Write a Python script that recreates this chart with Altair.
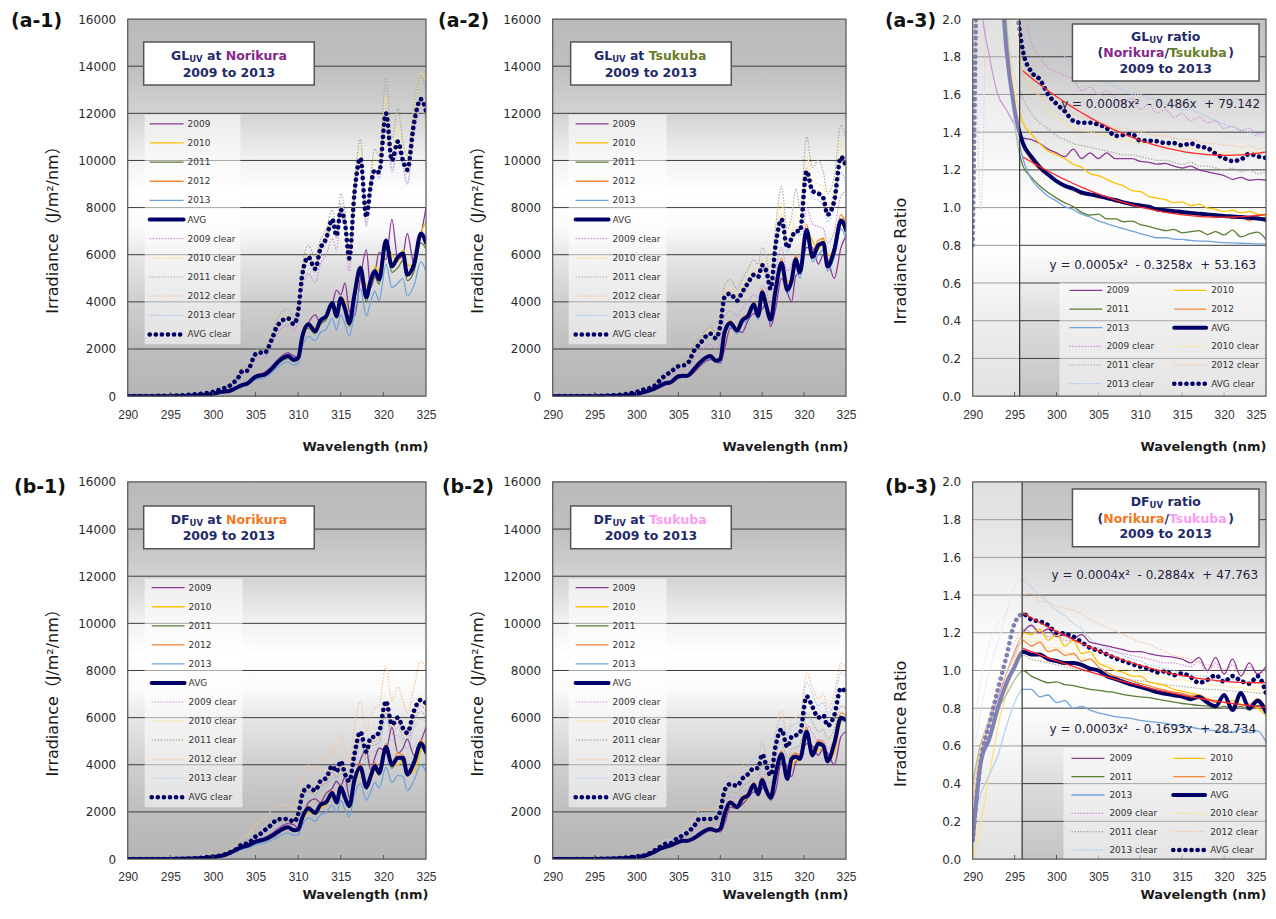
import altair as alt
import pandas as pd

FONT = "DejaVu Sans"
XFONT = "Liberation Sans Narrow, Liberation Sans, sans-serif"
NAVY = "#1f2a6b"
T_PURPLE = "#84288c"
T_OLIVE = "#6a7d28"
T_ORANGE = "#f07820"
T_PINK = "#fb9cf2"

SERIES = ["2009", "2010", "2011", "2012", "2013", "AVG",
          "2009 clear", "2010 clear", "2011 clear", "2012 clear", "2013 clear", "AVG clear"]
COLORS = ["#8b3a96", "#ffc000", "#5e7b34", "#f5883a", "#6fa3dc", "#000066",
          "#cf8fd6", "#ffe37a", "#a9ad98", "#f8c29a", "#a7c6ee", "#000066"]

# wavelength grid (nm) used for the irradiance spectra
WL_IRR = [290, 295, 298, 299, 300, 301, 302, 303, 303.5, 304, 305, 305.5, 306, 307, 307.5,
          308.8, 309.5, 310, 310.5, 311.2, 312, 312.6, 313.3, 314, 314.5, 315, 315.5, 316,
          316.6, 317.3, 318, 318.5, 319, 319.5, 320.3, 321, 321.7, 322.3, 322.8, 323.6, 324.4, 325]
# wavelength grid (nm) used for the ratios
WL_RATIO = list(range(290, 326))

# ---------------- (a-1) GL UV at Norikura ----------------
A1_2009 = [0, 0, 30, 60, 110, 200, 260, 430, 520, 580, 880, 950, 1000, 1300, 1500, 1850, 1700, 1650, 2400, 3100, 3450, 3100, 3500, 3900, 4500, 4300, 4800, 3600, 3400, 5000, 6200, 4600, 5200, 6100, 5800, 7500, 5800, 6000, 6900, 5600, 6800, 8000]
A1_2010 = [0, 0, 20, 45, 90, 160, 210, 380, 460, 520, 800, 860, 890, 1180, 1380, 1680, 1560, 1550, 2300, 3000, 2900, 3150, 3400, 3900, 3700, 4200, 4000, 3200, 4100, 5500, 4700, 4800, 5500, 5300, 6400, 6000, 5700, 6200, 5600, 5500, 6900, 7400]
A1_2011 = [0, 0, 20, 45, 95, 170, 220, 380, 450, 500, 780, 830, 860, 1150, 1330, 1600, 1470, 1560, 2450, 2900, 2650, 3050, 3250, 3800, 3300, 3950, 3550, 2950, 4050, 5200, 4000, 4650, 5050, 4750, 6300, 5250, 5450, 5750, 4900, 5300, 6500, 6250]
A1_2012 = [0, 0, 25, 50, 100, 180, 230, 400, 480, 530, 820, 870, 900, 1200, 1400, 1700, 1550, 1600, 2500, 3000, 2800, 3200, 3400, 3950, 3450, 4150, 3750, 3100, 4250, 5450, 4300, 4850, 5300, 5000, 6600, 5600, 5800, 6000, 5200, 5600, 6800, 6600]
A1_2013 = [0, 0, 20, 40, 85, 150, 200, 340, 410, 450, 700, 740, 770, 1030, 1200, 1450, 1320, 1380, 2100, 2550, 2350, 2700, 2850, 3300, 2800, 3450, 3050, 2550, 3500, 4550, 3400, 4000, 4450, 4050, 5600, 4600, 4800, 5000, 4250, 4700, 5700, 5300]
A1_AVG = [0, 0, 25, 50, 100, 180, 230, 400, 480, 530, 820, 870, 900, 1200, 1400, 1700, 1540, 1620, 2550, 3050, 2750, 3200, 3400, 3950, 3400, 4150, 3700, 3100, 4300, 5450, 4200, 4900, 5300, 4950, 6600, 5500, 5900, 6050, 5150, 5600, 6900, 6500]
A1_2009C = [0, 15, 70, 100, 150, 260, 390, 700, 950, 960, 1550, 1650, 1600, 2250, 2650, 3000, 2800, 3200, 4600, 5200, 4800, 5600, 6000, 6700, 6200, 7600, 7100, 5300, 8300, 10000, 7300, 8700, 9500, 9300, 11700, 9600, 10400, 9800, 9000, 11200, 12300, 11800]
A1_2010C = [0, 20, 80, 120, 180, 300, 460, 820, 1100, 1100, 1800, 1900, 1850, 2550, 3000, 3400, 3100, 3700, 5300, 6000, 5500, 6300, 6800, 7500, 6900, 8100, 7400, 6000, 8800, 10600, 7800, 9200, 10100, 9900, 12700, 10400, 11400, 10500, 10000, 12300, 13700, 13400]
A1_2011C = [0, 25, 90, 130, 200, 330, 500, 900, 1200, 1200, 1950, 2050, 2000, 2750, 3250, 3700, 3300, 3800, 5600, 6400, 5900, 6600, 7100, 7900, 7200, 8600, 7800, 6100, 9000, 10900, 8000, 9400, 10500, 10200, 13500, 10900, 12200, 10800, 10200, 12400, 13600, 12900]
A1_2012C = [0, 20, 80, 115, 175, 290, 440, 780, 1050, 1050, 1750, 1820, 1800, 2450, 2900, 3250, 3000, 3550, 5100, 5800, 5350, 6150, 6600, 7400, 6700, 7800, 7200, 5700, 8500, 10000, 7400, 8800, 9500, 9400, 11900, 9900, 10600, 9800, 9400, 11300, 12300, 11400]
A1_2013C = [0, 20, 75, 110, 170, 280, 430, 760, 1030, 1030, 1700, 1780, 1750, 2400, 2850, 3200, 2950, 3500, 5000, 5700, 5250, 6000, 6500, 7200, 6700, 8200, 7500, 5900, 8300, 9800, 7200, 8600, 9300, 9200, 11600, 9500, 10300, 9700, 9000, 11000, 12200, 11800]
A1_AVGC = [0, 20, 80, 120, 180, 300, 450, 800, 1080, 1080, 1780, 1850, 1820, 2500, 2950, 3300, 3050, 3600, 5200, 5900, 5400, 6250, 6700, 7500, 6800, 7900, 7300, 5850, 8600, 10100, 7600, 8900, 9600, 9500, 12000, 10000, 10800, 10000, 9600, 11600, 12600, 12100]

# ---------------- (a-2) GL UV at Tsukuba ----------------
A2_2009 = [0, 0, 15, 30, 70, 140, 250, 400, 480, 520, 750, 800, 800, 1050, 1250, 1550, 1450, 1400, 2000, 2900, 2800, 2700, 3200, 3500, 3400, 3700, 3900, 2950, 3700, 5000, 4400, 4000, 5100, 5300, 6300, 6300, 5600, 6000, 5800, 5000, 6300, 6800]
A2_2010 = [0, 0, 20, 40, 85, 170, 290, 470, 550, 580, 850, 880, 870, 1200, 1420, 1750, 1560, 1550, 2400, 3150, 2900, 3200, 3500, 3950, 3650, 4400, 4100, 3300, 4300, 5700, 4900, 4900, 5700, 5600, 7000, 6600, 6200, 6700, 6000, 6000, 7400, 7600]
A2_2011 = [0, 0, 20, 40, 90, 180, 300, 480, 560, 580, 860, 880, 870, 1210, 1410, 1720, 1510, 1600, 2750, 3150, 2800, 3250, 3450, 3950, 3450, 4450, 3850, 3300, 4550, 5700, 4550, 4950, 5850, 5300, 7100, 6000, 6450, 6550, 5550, 6250, 7500, 7100]
A2_2012 = [0, 0, 22, 45, 95, 190, 310, 500, 580, 600, 880, 900, 890, 1240, 1450, 1760, 1550, 1630, 2800, 3200, 2850, 3300, 3500, 4000, 3500, 4550, 3900, 3350, 4650, 5850, 4650, 5050, 6000, 5400, 7300, 6100, 6600, 6700, 5700, 6400, 7700, 7300]
A2_2013 = [0, 0, 18, 36, 85, 170, 285, 460, 530, 550, 810, 830, 820, 1150, 1330, 1620, 1430, 1500, 2600, 2950, 2650, 3050, 3250, 3700, 3250, 4200, 3600, 3100, 4300, 5400, 4300, 4700, 5500, 5000, 6750, 5700, 6000, 6200, 5300, 5900, 7100, 6700]
A2_AVG = [0, 0, 20, 40, 90, 180, 300, 480, 560, 580, 850, 870, 860, 1200, 1400, 1700, 1500, 1580, 2700, 3100, 2780, 3200, 3400, 3900, 3400, 4400, 3800, 3250, 4500, 5650, 4500, 4900, 5800, 5250, 7050, 5900, 6400, 6500, 5500, 6200, 7450, 7050]
A2_2009C = [0, 5, 50, 80, 150, 250, 340, 620, 750, 830, 1050, 1100, 1100, 1650, 1850, 2200, 2000, 2400, 3400, 3600, 3400, 3700, 4000, 4300, 4200, 4700, 4500, 3800, 5300, 6300, 5300, 5600, 5900, 5900, 8000, 7300, 7200, 7100, 6500, 7000, 8500, 8700]
A2_2010C = [0, 10, 65, 105, 190, 320, 420, 790, 950, 1050, 1330, 1370, 1420, 2100, 2300, 2800, 2550, 3150, 4400, 4600, 4250, 4600, 5050, 5400, 5300, 5850, 5550, 4750, 6700, 8200, 6600, 7000, 7800, 7500, 10200, 9100, 9000, 8900, 8100, 8700, 10800, 10300]
A2_2011C = [0, 10, 70, 110, 200, 340, 450, 850, 1000, 1100, 1400, 1450, 1500, 2250, 2450, 2950, 2700, 3300, 4700, 4950, 4550, 4950, 5400, 5800, 5600, 6300, 5900, 5000, 7200, 8900, 7100, 7600, 8800, 8000, 11000, 9700, 10000, 9500, 8600, 9300, 11500, 10900]
A2_2012C = [0, 10, 60, 100, 180, 300, 400, 760, 920, 1020, 1300, 1330, 1380, 2050, 2250, 2700, 2500, 3050, 4300, 4450, 4150, 4500, 4900, 5250, 5150, 5650, 5400, 4650, 6500, 7700, 6400, 6800, 7200, 7100, 9700, 8800, 8700, 8500, 7800, 8400, 10200, 9800]
A2_2013C = [0, 10, 55, 95, 170, 290, 380, 720, 870, 970, 1230, 1260, 1310, 1950, 2150, 2600, 2400, 2950, 4100, 4300, 4000, 4350, 4700, 5050, 4950, 5450, 5200, 4450, 6200, 7300, 6100, 6500, 6900, 6800, 9200, 8400, 8300, 8100, 7400, 8000, 9500, 9000]
A2_AVGC = [0, 10, 60, 100, 180, 300, 400, 750, 900, 1000, 1270, 1300, 1350, 2000, 2200, 2650, 2450, 3000, 4200, 4350, 4050, 4400, 4800, 5150, 5050, 5550, 5300, 4550, 6400, 7500, 6300, 6700, 7000, 7000, 9550, 8700, 8600, 8400, 7700, 8300, 10150, 9750]

# ---------------- (b-1) DF UV at Norikura ----------------
B1_2009 = [0, 0, 25, 55, 100, 160, 290, 480, 570, 620, 800, 860, 900, 1100, 1250, 1500, 1450, 1300, 1700, 2400, 2550, 2400, 2800, 3000, 3300, 3100, 3500, 2600, 3100, 4200, 4600, 3800, 4300, 4700, 4600, 5600, 4500, 4700, 5100, 4400, 5000, 5600]
B1_2010 = [0, 0, 15, 40, 75, 120, 230, 400, 480, 520, 690, 740, 780, 950, 1070, 1290, 1170, 1180, 1600, 2000, 1900, 2150, 2300, 2650, 2400, 2900, 2600, 2150, 3100, 3750, 3100, 3300, 3800, 3600, 4500, 4000, 4000, 4150, 3600, 3700, 4600, 4900]
B1_2011 = [0, 0, 20, 45, 85, 135, 250, 420, 500, 540, 710, 760, 800, 980, 1100, 1320, 1190, 1230, 1750, 2100, 1900, 2250, 2370, 2750, 2350, 3000, 2550, 2200, 3300, 3800, 2950, 3400, 3850, 3550, 4650, 3850, 4250, 4150, 3500, 4000, 4750, 4400]
B1_2012 = [0, 0, 22, 52, 95, 150, 275, 460, 540, 580, 760, 810, 850, 1040, 1160, 1400, 1260, 1300, 1830, 2230, 2020, 2380, 2500, 2900, 2480, 3150, 2700, 2330, 3450, 4050, 3150, 3620, 4100, 3780, 4900, 4100, 4500, 4400, 3700, 4250, 5050, 4700]
B1_2013 = [0, 0, 15, 40, 75, 115, 210, 360, 430, 460, 600, 640, 670, 820, 920, 1100, 1000, 1020, 1450, 1750, 1600, 1880, 1980, 2300, 1950, 2500, 2100, 1800, 2750, 3200, 2500, 2850, 3250, 3000, 3900, 3250, 3550, 3500, 2900, 3350, 4000, 3700]
B1_AVG = [0, 0, 20, 50, 90, 140, 260, 440, 520, 560, 730, 780, 820, 1000, 1120, 1350, 1220, 1250, 1770, 2150, 1950, 2300, 2420, 2800, 2400, 3050, 2600, 2250, 3350, 3900, 3050, 3500, 3950, 3650, 4750, 4000, 4300, 4300, 3600, 4100, 4900, 4550]
B1_2009C = [0, 5, 35, 65, 100, 150, 260, 450, 610, 620, 900, 1000, 1130, 1420, 1600, 1650, 1500, 1800, 2600, 2900, 2800, 3100, 3300, 3700, 3500, 4000, 3450, 3150, 4250, 5100, 4400, 4900, 5000, 5200, 6400, 5500, 5800, 5400, 5200, 6000, 6500, 6300]
B1_2010C = [0, 5, 38, 68, 105, 155, 270, 460, 630, 630, 920, 1010, 1160, 1450, 1620, 1650, 1530, 1850, 2650, 3000, 2800, 3200, 3350, 3830, 3600, 4050, 3500, 3200, 4350, 5250, 4400, 5000, 5050, 5250, 6500, 5550, 5850, 5400, 5200, 6100, 6600, 6500]
B1_2011C = [0, 5, 35, 62, 100, 150, 260, 440, 600, 600, 880, 980, 1110, 1400, 1560, 1580, 1470, 1770, 2560, 2860, 2700, 3070, 3200, 3670, 3440, 3860, 3350, 3070, 4140, 5000, 4230, 4800, 4830, 5000, 6200, 5300, 5600, 5150, 5000, 5850, 6250, 6000]
B1_2012C = [0, 10, 60, 100, 160, 240, 420, 720, 950, 1000, 1450, 1600, 1750, 2100, 2300, 2300, 2100, 2600, 3600, 4000, 3800, 4200, 4300, 4800, 4500, 5300, 4600, 4100, 5600, 6700, 5400, 6100, 6400, 6500, 8200, 6700, 7300, 6700, 6200, 7300, 8400, 8000]
B1_2013C = [0, 5, 30, 60, 95, 140, 245, 420, 570, 570, 840, 920, 1050, 1320, 1480, 1500, 1390, 1670, 2420, 2700, 2550, 2900, 3030, 3470, 3250, 3650, 3170, 2900, 3900, 4750, 4000, 4530, 4580, 4750, 5900, 5000, 5300, 4900, 4700, 5550, 5950, 5800]
B1_AVGC = [0, 5, 40, 70, 110, 160, 280, 480, 650, 650, 950, 1050, 1200, 1500, 1680, 1700, 1580, 1900, 2750, 3080, 2900, 3300, 3450, 3950, 3700, 4150, 3600, 3300, 4450, 5400, 4550, 5150, 5200, 5400, 6700, 5700, 6000, 5550, 5350, 6300, 6750, 6600]

# ---------------- (b-2) DF UV at Tsukuba ----------------
B2_2009 = [0, 0, 15, 40, 75, 120, 240, 420, 490, 530, 670, 720, 740, 850, 960, 1200, 1200, 1150, 1500, 2200, 2150, 2300, 2600, 2850, 2800, 3000, 3050, 2500, 2900, 4100, 3900, 3500, 4100, 4300, 4900, 4800, 4400, 4700, 4500, 4000, 5200, 5400]
B2_2010 = [0, 0, 15, 45, 80, 125, 255, 430, 490, 540, 690, 750, 740, 880, 1000, 1230, 1170, 1200, 1700, 2300, 2150, 2450, 2600, 3000, 2700, 3250, 2900, 2550, 3350, 4300, 3500, 3900, 4200, 4200, 5200, 4500, 4600, 4700, 4200, 4500, 5800, 6000]
B2_2011 = [0, 0, 20, 50, 90, 140, 280, 460, 520, 570, 720, 780, 770, 920, 1050, 1290, 1200, 1290, 1920, 2420, 2200, 2570, 2720, 3170, 2760, 3380, 2900, 2620, 3620, 4480, 3400, 4270, 4380, 4260, 5450, 4400, 4920, 4830, 4150, 4920, 6050, 5950]
B2_2012 = [0, 0, 22, 55, 95, 150, 295, 480, 545, 595, 750, 810, 800, 960, 1090, 1330, 1250, 1330, 1980, 2480, 2280, 2640, 2800, 3260, 2850, 3470, 3000, 2700, 3720, 4600, 3520, 4400, 4500, 4400, 5600, 4550, 5050, 4950, 4300, 5050, 6200, 6100]
B2_2013 = [0, 0, 20, 48, 88, 138, 275, 450, 510, 560, 705, 765, 755, 900, 1030, 1260, 1180, 1260, 1870, 2360, 2160, 2500, 2650, 3100, 2700, 3300, 2850, 2550, 3550, 4380, 3350, 4180, 4280, 4180, 5320, 4330, 4820, 4720, 4080, 4820, 5900, 5800]
B2_AVG = [0, 0, 20, 50, 90, 140, 280, 460, 520, 570, 720, 780, 770, 920, 1050, 1280, 1200, 1280, 1900, 2400, 2200, 2550, 2700, 3150, 2750, 3350, 2900, 2600, 3600, 4450, 3400, 4250, 4350, 4250, 5400, 4400, 4900, 4800, 4150, 4900, 6000, 5900]
B2_2009C = [0, 4, 33, 58, 90, 135, 275, 465, 540, 550, 760, 820, 910, 1210, 1410, 1410, 1450, 1700, 2400, 2640, 2570, 2820, 2990, 3200, 3200, 3700, 3280, 2950, 3980, 4570, 3940, 4300, 4360, 4440, 5700, 5350, 4980, 5060, 4690, 5060, 6000, 5850]
B2_2010C = [0, 5, 40, 70, 110, 160, 330, 560, 650, 660, 920, 990, 1100, 1460, 1690, 1700, 1740, 2040, 2880, 3150, 3080, 3380, 3570, 3830, 3820, 4420, 3920, 3520, 4760, 5450, 4720, 5150, 5200, 5300, 6850, 6400, 5950, 6050, 5600, 6050, 7200, 7000]
B2_2011C = [0, 4, 35, 62, 100, 145, 300, 500, 590, 600, 830, 890, 990, 1310, 1530, 1530, 1580, 1850, 2600, 2860, 2800, 3060, 3240, 3470, 3470, 4000, 3560, 3200, 4320, 4950, 4280, 4660, 4730, 4820, 6200, 5800, 5400, 5500, 5100, 5500, 6500, 6350]
B2_2012C = [0, 10, 55, 90, 140, 210, 420, 700, 820, 830, 1150, 1240, 1380, 1820, 2100, 2100, 2150, 2500, 3400, 3700, 3600, 3950, 4150, 4400, 4400, 5000, 4500, 4050, 5400, 6300, 5400, 5900, 6000, 6100, 7900, 7300, 6800, 7000, 6400, 7000, 8300, 8100]
B2_2013C = [0, 8, 50, 85, 130, 190, 390, 650, 760, 770, 1070, 1150, 1280, 1700, 1960, 1960, 2000, 2350, 3250, 3550, 3450, 3800, 4000, 4250, 4250, 4900, 4350, 3900, 5250, 6000, 5200, 5650, 5750, 5850, 7500, 7000, 6500, 6650, 6150, 6650, 7900, 7700]
B2_AVGC = [0, 5, 40, 70, 110, 160, 330, 560, 650, 660, 920, 990, 1100, 1460, 1700, 1700, 1750, 2050, 2900, 3180, 3100, 3400, 3600, 3850, 3850, 4450, 3950, 3550, 4800, 5500, 4750, 5180, 5250, 5350, 6900, 6450, 6000, 6100, 5650, 6100, 7250, 7050]

# ---------------- (a-3) GL UV ratio Norikura/Tsukuba ----------------
A3_2009 = [3.0, 2.1, 1.8, 1.6, 1.52, 1.44, 1.37, 1.36, 1.34, 1.31, 1.29, 1.27, 1.31, 1.26, 1.29, 1.26, 1.29, 1.26, 1.26, 1.26, 1.245, 1.24, 1.23, 1.235, 1.22, 1.21, 1.22, 1.2, 1.19, 1.18, 1.17, 1.15, 1.16, 1.145, 1.15, 1.145]
A3_2010 = [3.0, 3.0, 3.0, 2.4, 1.95, 1.62, 1.45, 1.39, 1.34, 1.3, 1.28, 1.26, 1.23, 1.215, 1.18, 1.17, 1.15, 1.13, 1.115, 1.09, 1.085, 1.06, 1.05, 1.042, 1.025, 1.03, 1.01, 1.018, 0.998, 0.99, 0.98, 0.986, 0.972, 0.98, 0.965, 0.955]
A3_2011 = [3.0, 3.0, 3.0, 2.6, 2.0, 1.45, 1.22, 1.16, 1.115, 1.08, 1.05, 1.025, 1.005, 0.975, 0.96, 0.965, 0.94, 0.94, 0.925, 0.928, 0.91, 0.9, 0.888, 0.878, 0.884, 0.866, 0.872, 0.878, 0.857, 0.872, 0.855, 0.88, 0.845, 0.86, 0.87, 0.83]
A3_2012 = [3.0, 3.0, 3.0, 2.5, 1.9, 1.5, 1.33, 1.25, 1.2, 1.17, 1.14, 1.11, 1.1, 1.07, 1.07, 1.05, 1.05, 1.03, 1.03, 1.01, 1.01, 1.0, 0.99, 0.975, 0.98, 0.965, 0.97, 0.955, 0.965, 0.945, 0.96, 0.94, 0.955, 0.93, 0.95, 0.92]
A3_2013 = [3.0, 3.0, 3.0, 2.3, 1.8, 1.45, 1.26, 1.15, 1.1, 1.06, 1.035, 1.005, 0.99, 0.965, 0.95, 0.93, 0.915, 0.9, 0.888, 0.875, 0.862, 0.85, 0.84, 0.84, 0.833, 0.831, 0.826, 0.822, 0.822, 0.817, 0.814, 0.813, 0.811, 0.81, 0.808, 0.808]
A3_AVG = [3.0, 3.0, 3.0, 2.5, 1.85, 1.52, 1.34, 1.27, 1.215, 1.175, 1.14, 1.115, 1.1, 1.08, 1.07, 1.062, 1.05, 1.04, 1.028, 1.018, 1.011, 1.005, 0.99, 0.986, 0.981, 0.977, 0.972, 0.968, 0.964, 0.96, 0.956, 0.953, 0.95, 0.946, 0.942, 0.937]
A3_2009C = [3.0, 0.99, 3.0, 3.0, 3.0, 2.6, 2.1, 1.88, 1.8, 1.74, 1.72, 1.7, 1.68, 1.62, 1.64, 1.6, 1.62, 1.58, 1.56, 1.58, 1.52, 1.55, 1.5, 1.52, 1.48, 1.5, 1.46, 1.48, 1.45, 1.46, 1.42, 1.43, 1.41, 1.42, 1.39, 1.4]
A3_2010C = [3.0, 3.0, 3.0, 3.0, 2.5, 2.0, 1.75, 1.65, 1.58, 1.52, 1.48, 1.45, 1.42, 1.41, 1.4, 1.39, 1.38, 1.36, 1.36, 1.35, 1.34, 1.34, 1.33, 1.32, 1.33, 1.31, 1.32, 1.3, 1.31, 1.3, 1.29, 1.3, 1.28, 1.3, 1.29, 1.3]
A3_2011C = [3.0, 3.0, 3.0, 2.6, 2.0, 1.7, 1.58, 1.5, 1.45, 1.42, 1.38, 1.36, 1.34, 1.33, 1.32, 1.31, 1.3, 1.29, 1.28, 1.28, 1.27, 1.26, 1.25, 1.25, 1.24, 1.23, 1.24, 1.22, 1.22, 1.21, 1.2, 1.21, 1.19, 1.2, 1.18, 1.19]
A3_2012C = [3.0, 3.0, 3.0, 3.0, 2.4, 1.9, 1.7, 1.64, 1.6, 1.57, 1.55, 1.52, 1.5, 1.48, 1.47, 1.45, 1.44, 1.42, 1.42, 1.41, 1.4, 1.39, 1.38, 1.38, 1.37, 1.36, 1.36, 1.35, 1.34, 1.34, 1.33, 1.33, 1.32, 1.33, 1.31, 1.32]
A3_2013C = [3.0, 3.0, 3.0, 3.0, 3.0, 2.6, 2.2, 2.0, 1.92, 1.86, 1.82, 1.8, 1.76, 1.72, 1.7, 1.68, 1.66, 1.64, 1.62, 1.6, 1.6, 1.58, 1.57, 1.55, 1.54, 1.52, 1.52, 1.5, 1.48, 1.46, 1.44, 1.43, 1.41, 1.4, 1.38, 1.38]
A3_AVGC = [0.8, 3.0, 3.0, 3.0, 3.0, 2.2, 1.83, 1.72, 1.68, 1.6, 1.55, 1.51, 1.46, 1.45, 1.45, 1.44, 1.42, 1.38, 1.385, 1.39, 1.355, 1.355, 1.352, 1.342, 1.342, 1.33, 1.34, 1.324, 1.316, 1.285, 1.262, 1.247, 1.255, 1.285, 1.272, 1.263]

# ---------------- (b-3) DF UV ratio Norikura/Tsukuba ----------------
B3_2009 = [0.2, 0.55, 0.72, 0.85, 0.98, 1.1, 1.2, 1.24, 1.2, 1.22, 1.18, 1.19, 1.17, 1.19, 1.15, 1.14, 1.13, 1.12, 1.11, 1.1, 1.1, 1.09, 1.08, 1.075, 1.07, 1.06, 1.04, 1.07, 1.0, 1.07, 0.98, 1.06, 0.97, 1.04, 0.98, 1.02]
B3_2010 = [0.0, 0.2, 0.45, 0.7, 0.88, 1.05, 1.2, 1.19, 1.22, 1.16, 1.19, 1.13, 1.16, 1.09, 1.1, 1.04, 1.02, 1.0, 0.99, 0.97, 0.97, 0.94, 0.93, 0.92, 0.9, 0.89, 0.88, 0.87, 0.85, 0.84, 0.83, 0.84, 0.82, 0.81, 0.8, 0.76]
B3_2011 = [0.4, 0.62, 0.72, 0.8, 0.87, 0.95, 1.0, 0.97, 0.95, 0.935, 0.94, 0.925, 0.92, 0.91, 0.9, 0.895, 0.888, 0.883, 0.872, 0.865, 0.86, 0.856, 0.848, 0.84, 0.832, 0.825, 0.82, 0.815, 0.812, 0.8, 0.81, 0.795, 0.81, 0.79, 0.815, 0.8]
B3_2012 = [0.3, 0.6, 0.75, 0.88, 0.98, 1.08, 1.16, 1.13, 1.15, 1.1, 1.11, 1.08, 1.09, 1.05, 1.06, 1.02, 0.99, 0.97, 0.96, 0.945, 0.93, 0.92, 0.905, 0.895, 0.885, 0.88, 0.865, 0.87, 0.85, 0.83, 0.87, 0.81, 0.87, 0.82, 0.85, 0.8]
B3_2013 = [0.2, 0.35, 0.45, 0.55, 0.7, 0.83, 0.9, 0.9, 0.86, 0.87, 0.83, 0.84, 0.8, 0.81, 0.79, 0.775, 0.765, 0.755, 0.75, 0.745, 0.735, 0.73, 0.725, 0.72, 0.71, 0.705, 0.7, 0.69, 0.685, 0.68, 0.675, 0.672, 0.69, 0.67, 0.68, 0.62]
B3_AVG = [0.1, 0.52, 0.64, 0.8, 0.93, 1.02, 1.1, 1.085, 1.085, 1.06, 1.05, 1.04, 1.04, 1.03, 1.01, 1.0, 0.97, 0.955, 0.94, 0.925, 0.913, 0.9, 0.885, 0.877, 0.868, 0.862, 0.848, 0.86, 0.83, 0.81, 0.87, 0.79, 0.88, 0.8, 0.84, 0.78]
B3_2009C = [0.2, 0.5, 0.75, 0.9, 1.05, 1.15, 1.22, 1.2, 1.21, 1.18, 1.19, 1.16, 1.16, 1.14, 1.13, 1.12, 1.11, 1.1, 1.09, 1.08, 1.07, 1.06, 1.05, 1.04, 1.04, 1.03, 1.02, 1.05, 0.99, 1.04, 0.98, 1.03, 0.97, 1.02, 0.98, 1.01]
B3_2010C = [0.1, 0.45, 0.7, 0.85, 1.0, 1.1, 1.18, 1.15, 1.16, 1.12, 1.12, 1.1, 1.09, 1.07, 1.06, 1.04, 1.03, 1.02, 1.01, 1.0, 0.99, 0.98, 0.97, 0.96, 0.95, 0.95, 0.94, 0.93, 0.93, 0.92, 0.92, 0.91, 0.91, 0.9, 0.9, 0.89]
B3_2011C = [0.3, 0.6, 0.75, 0.85, 0.95, 1.03, 1.08, 1.06, 1.05, 1.04, 1.03, 1.02, 1.01, 1.0, 0.99, 0.98, 0.97, 0.965, 0.96, 0.95, 0.945, 0.94, 0.93, 0.925, 0.92, 0.915, 0.91, 0.905, 0.9, 0.9, 0.895, 0.89, 0.89, 0.885, 0.88, 0.88]
B3_2012C = [0.6, 0.95, 1.15, 1.25, 1.3, 1.36, 1.4, 1.41, 1.37, 1.36, 1.34, 1.33, 1.32, 1.3, 1.27, 1.25, 1.23, 1.21, 1.19, 1.17, 1.15, 1.14, 1.12, 1.1, 1.08, 1.07, 1.06, 1.04, 1.03, 1.02, 1.01, 1.0, 0.99, 0.98, 0.99, 0.97]
B3_2013C = [0.5, 0.8, 1.0, 1.15, 1.3, 1.45, 1.48, 1.44, 1.4, 1.36, 1.32, 1.29, 1.25, 1.22, 1.17, 1.14, 1.12, 1.1, 1.08, 1.06, 1.05, 1.03, 1.02, 1.01, 1.0, 0.99, 0.98, 0.97, 0.97, 0.96, 0.96, 0.95, 0.95, 0.94, 0.95, 0.94]
B3_AVGC = [0.1, 0.53, 0.72, 0.9, 1.07, 1.25, 1.3, 1.27, 1.26, 1.24, 1.2, 1.195, 1.18, 1.15, 1.12, 1.105, 1.085, 1.065, 1.05, 1.035, 1.02, 1.01, 0.99, 0.995, 0.975, 0.985, 0.965, 0.935, 0.95, 0.975, 0.94, 0.97, 0.945, 0.93, 0.97, 0.88]

IRR_TICKS = [0, 2000, 4000, 6000, 8000, 10000, 12000, 14000, 16000]
RATIO_TICKS = [0.0, 0.2, 0.4, 0.6, 0.8, 1.0, 1.2, 1.4, 1.6, 1.8, 2.0]
X_TICKS = [290, 295, 300, 305, 310, 315, 320, 325]

# ---------------------------------------------------------------------------
ONE = pd.DataFrame({"k": [0]})
COLOR = alt.Color("series:N", scale=alt.Scale(domain=SERIES, range=COLORS), legend=None)
YEARS = SERIES[0:5]
CLEARS = SERIES[6:11]
STYLES = [
    (CLEARS, 1.2, [1.5, 1.5], "butt"),
    (YEARS, 1.3, None, "butt"),
    (["AVG clear"], 4.6, [0.1, 6.0], "round"),
    (["AVG"], 4.0, None, "round"),
]


def gradient(stops):
    return alt.LinearGradient(
        gradient="linear",
        stops=[alt.GradientStop(offset=o, color=c) for o, c in stops],
        x1=0, x2=0, y1=0, y2=1)


BG_IRR = gradient([(0, "#bababa"), (0.125, "#bfbfbf"), (0.25, "#d2d2d2"), (0.375, "#f2f2f2"),
                   (0.46, "#ffffff"), (0.55, "#fbfbfb"), (0.63, "#e6e6e6"), (0.75, "#cfcfcf"),
                   (0.88, "#bdbdbd"), (1, "#b5b5b5")])
BG_RAT = gradient([(0, "#c2c2c2"), (0.1, "#c8c8c8"), (0.25, "#dedede"), (0.4, "#f4f4f4"),
                   (0.5, "#ffffff"), (0.62, "#fbfbfb"), (0.8, "#dcdcdc"), (1, "#c4c4c4")])

BOLD_W = {" ": 0.348, "(": 0.457, ")": 0.457, "/": 0.365, "0": 0.696, "1": 0.696, "2": 0.696,
          "3": 0.696, "9": 0.696, "D": 0.830, "F": 0.683, "G": 0.821, "L": 0.637, "N": 0.837,
          "T": 0.682, "U": 0.812, "V": 0.774, "a": 0.675, "b": 0.716, "i": 0.343, "k": 0.665,
          "o": 0.687, "r": 0.493, "s": 0.595, "t": 0.478, "u": 0.712}


def twidth(s, size):
    return sum(BOLD_W.get(c, 0.66) for c in s) * size


def rich_line(parts, cx, cy, size=12.5, sub_size=8.5):
    sizes = [sub_size if sub else size for _, _, sub in parts]
    total = sum(twidth(t, s) for (t, _, _), s in zip(parts, sizes))
    x = cx - total / 2
    out = []
    for (t, col, sub), s in zip(parts, sizes):
        lead = len(t) - len(t.lstrip(" "))
        x += lead * BOLD_W[" "] * s
        core = t.strip(" ")
        out.append(alt.Chart(ONE).mark_text(
            text=core, align="left", baseline="middle", font=FONT, fontWeight="bold",
            fontSize=s, color=col).encode(x=alt.value(x), y=alt.value(cy + (3 if sub else 0))))
        x += twidth(t.lstrip(" "), s)
    return out


def build_df(wl, lists):
    rows = []
    for name, vals in zip(SERIES, lists):
        assert len(vals) == len(wl), (name, len(vals), len(wl))
        for xv, yv in zip(wl, vals):
            rows.append({"x": xv, "y": yv, "series": name})
    return pd.DataFrame(rows)


def panel(kind, df, W, H, P):
    ymax = 16000 if kind == "irr" else 2.0
    xkw = dict(values=X_TICKS, title="Wavelength (nm)", grid=False, domain=False, ticks=False,
               labelFont=XFONT, labelFontSize=12, labelColor="#333", labelPadding=13,
               labelFlush=False, labelOverlap=False,
               titleFont=FONT, titleFontSize=13, titleFontWeight="bold", titleColor="#1a1a1a",
               titleX=P.get("xt_x", W + 2), titleY=P.get("xt_y", 50), titleAlign="right",
               titleBaseline="middle")
    if P.get("last_right"):
        xkw["labelAlign"] = alt.ExprRef(expr="datum.value == 325 ? 'right' : 'center'")
    xa = alt.Axis(**xkw)
    if kind == "irr":
        ya = alt.Axis(values=IRR_TICKS, format="d", title="Irradiance（J/m²/nm）", grid=False,
                      domain=False, ticks=False, labelFont=FONT, labelFontSize=12,
                      labelColor="#2a2a2a", labelPadding=12, labelFlush=False,
                      titleFont=FONT + ", Noto Sans CJK JP", titleFontSize=16,
                      titleFontWeight="normal", titleColor="#1a1a1a", titleAngle=270,
                      titleX=-75, titleY=207, titleAlign="center", titleBaseline="middle")
        grid_vals = IRR_TICKS[1:-1]
    else:
        ya = alt.Axis(values=RATIO_TICKS, format=".1f", title="Irradiance Ratio", grid=False,
                      domain=False, ticks=False, labelFont=FONT, labelFontSize=12,
                      labelColor="#2a2a2a", labelPadding=12, labelFlush=False,
                      titleFont=FONT, titleFontSize=16, titleFontWeight="normal",
                      titleColor="#1a1a1a", titleAngle=270, titleX=-72, titleY=242,
                      titleAlign="center", titleBaseline="middle")
        grid_vals = RATIO_TICKS[1:-1]
    XS = alt.Scale(domain=[290, 325], nice=False, zero=False)
    YS = alt.Scale(domain=[0, ymax], nice=False)

    def X(f):
        return alt.X(f, type="quantitative", scale=XS, axis=xa)

    def Y(f):
        return alt.Y(f, type="quantitative", scale=YS, axis=ya)

    def px2x(px):
        return 290 + px / W * 35

    def py2y(py):
        return ymax * (1 - py / H)

    L = []
    L.append(alt.Chart(ONE).mark_rect(fill=BG_IRR if kind == "irr" else BG_RAT).encode(
        x=alt.value(0), x2=alt.value(W), y=alt.value(0), y2=alt.value(H)))
    L.append(alt.Chart(pd.DataFrame({"g": grid_vals})).mark_rule(
        color="#3c3c3c", strokeWidth=1).encode(y=Y("g")))

    for group, w, dash, cap in STYLES:
        kw = dict(strokeWidth=w, strokeCap=cap, clip=True, interpolate="monotone")
        if dash:
            kw["strokeDash"] = dash
        L.append(alt.Chart(df).transform_filter(
            alt.FieldOneOfPredicate(field="series", oneOf=group)).mark_line(**kw).encode(
            x=X("x"), y=Y("y"), color=COLOR))

    if kind == "ratio":
        for s in ["AVG clear", "AVG"]:
            L.append(alt.Chart(df).transform_filter(
                (alt.datum.series == s) & (alt.datum.x >= 296)).transform_regression(
                "x", "y", method="poly", order=2, extent=[296, 325]).mark_line(
                color="#ff2a2a", strokeWidth=1.3, clip=True).encode(x=X("x"), y=Y("y")))
        odf = pd.DataFrame({"a": [290], "b": [P["vline"]]})
        L.append(alt.Chart(odf).mark_rect(fill="white", fillOpacity=0.5).encode(
            x=X("a"), x2=alt.X2("b"), y=alt.value(0), y2=alt.value(H)))
        L.append(alt.Chart(odf).mark_rule(color="#333", strokeWidth=1.2).encode(x=X("b")))

    # small inward ticks along the wavelength axis
    L.append(alt.Chart(pd.DataFrame({"t": X_TICKS[1:-1]})).mark_rule(
        color="#555", strokeWidth=1).encode(x=X("t"), y=alt.value(H - 4), y2=alt.value(H)))

    # legend
    lb = P["legend_box"]
    L.append(alt.Chart(ONE).mark_rect(fill="white", fillOpacity=0.55).encode(
        x=alt.value(lb[0]), x2=alt.value(lb[2]), y=alt.value(lb[1]), y2=alt.value(lb[3])))
    rows = []
    for i, s in enumerate(SERIES):
        if kind == "irr":
            col, row = 0, i
        else:
            col, row = i % 2, i // 2
        sx1, sx2, tx = P["leg_cols"][col]
        py = P["leg_y0"] + P["leg_dy"] * row
        rows.append({"series": s, "x1": px2x(sx1), "x2": px2x(sx2), "tx": px2x(tx), "ly": py2y(py)})
    ldf = pd.DataFrame(rows)
    for group, w, dash, cap in STYLES:
        kw = dict(strokeWidth=w, strokeCap=cap)
        if dash:
            kw["strokeDash"] = dash
        L.append(alt.Chart(ldf).transform_filter(
            alt.FieldOneOfPredicate(field="series", oneOf=group)).mark_rule(**kw).encode(
            x=X("x1"), x2=alt.X2("x2"), y=Y("ly"), color=COLOR))
    L.append(alt.Chart(ldf).mark_text(align="left", baseline="middle", font=FONT, fontSize=9,
                                      color="#333").encode(x=X("tx"), y=Y("ly"), text="series:N"))

    # title box
    bx = P["box"]
    L.append(alt.Chart(ONE).mark_rect(fill="white", stroke="#555", strokeWidth=1.5).encode(
        x=alt.value(bx[0]), x2=alt.value(bx[2]), y=alt.value(bx[1]), y2=alt.value(bx[3])))
    for parts, cy in zip(P["title_lines"], P["title_ys"]):
        L += rich_line(parts, P["title_cx"], cy)

    for text, ex, ey in P.get("eqs", []):
        L.append(alt.Chart(ONE).mark_text(text=text, align="right", baseline="middle", font=FONT,
                                          fontSize=12, color="#22223f").encode(
            x=alt.value(ex), y=alt.value(ey)))

    L.append(alt.Chart(ONE).mark_text(text=P["label"], align="left", baseline="middle", font=FONT,
                                      fontSize=19, fontWeight="bold", color="#111").encode(
        x=alt.value(P["label_xy"][0]), y=alt.value(P["label_xy"][1])))
    # plot frame
    L.append(alt.Chart(ONE).mark_rect(fill="transparent", stroke="#555", strokeWidth=1.2).encode(
        x=alt.value(0), x2=alt.value(W), y=alt.value(0), y2=alt.value(H)))
    return alt.layer(*L).properties(width=W, height=H)


YR = [("2009 to 2013", NAVY, False)]


def irr_title(q, place, pcol):
    return [[(q, NAVY, False), ("UV", NAVY, True), (" at ", NAVY, False), (place, pcol, False)], YR]


def ratio_title(q, ncol, tcol):
    return [[(q, NAVY, False), ("UV", NAVY, True), (" ratio", NAVY, False)],
            [("(", NAVY, False), ("Norikura", ncol, False), ("/", NAVY, False),
             ("Tsukuba", tcol, False), (")", NAVY, False)], YR]


H = 378
BOTTOM_XT = 36  # bottom-row axis title offset (kept inside the window)
irr_leg = lambda x1, x2, tx, y0, dy: dict(leg_cols=[(x1, x2, tx)], leg_y0=y0, leg_dy=dy)

a1 = panel("irr", build_df(WL_IRR, [A1_2009, A1_2010, A1_2011, A1_2012, A1_2013, A1_AVG,
                                    A1_2009C, A1_2010C, A1_2011C, A1_2012C, A1_2013C, A1_AVGC]),
           299, H, dict(label="(a-1)", label_xy=(-117, 2), box=(16, 23, 187, 66), title_cx=101.5,
                        title_lines=irr_title("GL", "Norikura", T_PURPLE), title_ys=[37.5, 54],
                        legend_box=(17, 96, 113, 326), **irr_leg(22, 56, 60, 105, 19.2)))
a2 = panel("irr", build_df(WL_IRR, [A2_2009, A2_2010, A2_2011, A2_2012, A2_2013, A2_AVG,
                                    A2_2009C, A2_2010C, A2_2011C, A2_2012C, A2_2013C, A2_AVGC]),
           294, H, dict(label="(a-2)", label_xy=(-115, 2), box=(18, 23, 179, 66), title_cx=98.5,
                        title_lines=irr_title("GL", "Tsukuba", T_OLIVE), title_ys=[37.5, 54],
                        legend_box=(16, 96, 114, 326), **irr_leg(23, 56, 60, 105, 19.2)))
a3 = panel("ratio", build_df(WL_RATIO, [A3_2009, A3_2010, A3_2011, A3_2012, A3_2013, A3_AVG,
                                        A3_2009C, A3_2010C, A3_2011C, A3_2012C, A3_2013C, A3_AVGC]),
           294, H, dict(label="(a-3)", label_xy=(-88, 2), box=(100, 5, 287, 62), title_cx=193.5,
                        title_lines=ratio_title("GL", T_PURPLE, T_OLIVE), title_ys=[18, 34, 50],
                        legend_box=(87, 264, 294, 378),
                        leg_cols=[(97, 130, 134), (202, 234, 239)], leg_y0=272, leg_dy=18.7,
                        vline=295.6, xt_x=294, last_right=True,
                        eqs=[("y = 0.0008x²\u00a0 - 0.486x\u00a0 + 79.142", 288, 85),
                             ("y = 0.0005x²\u00a0 - 0.3258x\u00a0 + 53.163", 284, 247)]))
b1 = panel("irr", build_df(WL_IRR, [B1_2009, B1_2010, B1_2011, B1_2012, B1_2013, B1_AVG,
                                    B1_2009C, B1_2010C, B1_2011C, B1_2012C, B1_2013C, B1_AVGC]),
           299, H, dict(label="(b-1)", label_xy=(-114, 5), box=(16, 24, 187, 67), title_cx=101.5,
                        title_lines=irr_title("DF", "Norikura", T_ORANGE), title_ys=[38, 54.5],
                        legend_box=(17, 97, 115, 326), xt_y=BOTTOM_XT,
                        **irr_leg(24, 57, 61, 106, 19.1)))
b2 = panel("irr", build_df(WL_IRR, [B2_2009, B2_2010, B2_2011, B2_2012, B2_2013, B2_AVG,
                                    B2_2009C, B2_2010C, B2_2011C, B2_2012C, B2_2013C, B2_AVGC]),
           294, H, dict(label="(b-2)", label_xy=(-111, 5), box=(18, 24, 179, 67), title_cx=98.5,
                        title_lines=irr_title("DF", "Tsukuba", T_PINK), title_ys=[38, 54.5],
                        legend_box=(16, 97, 114, 326), xt_y=BOTTOM_XT,
                        **irr_leg(23, 56, 60, 106, 19.1)))
b3 = panel("ratio", build_df(WL_RATIO, [B3_2009, B3_2010, B3_2011, B3_2012, B3_2013, B3_AVG,
                                        B3_2009C, B3_2010C, B3_2011C, B3_2012C, B3_2013C, B3_AVGC]),
           294, H, dict(label="(b-3)", label_xy=(-88, 5), box=(100, 7, 287, 65), title_cx=193.5,
                        title_lines=ratio_title("DF", T_ORANGE, T_PINK), title_ys=[20, 37, 52],
                        legend_box=(91, 267, 294, 378),
                        leg_cols=[(99, 132, 137), (201, 233, 238)], leg_y0=277, leg_dy=18.4,
                        vline=295.9, xt_x=294, xt_y=BOTTOM_XT, last_right=True,
                        eqs=[("y = 0.0004x²\u00a0 - 0.2884x\u00a0 + 47.763", 286, 93),
                             ("y = 0.0003x²\u00a0 - 0.1693x\u00a0 + 28.734", 284, 248)]))

chart = alt.concat(a1, a2, a3, b1, b2, b3, columns=3, spacing={"row": 86, "column": 127},
                   bounds="flush", align="each").resolve_scale(
    x="independent", y="independent").configure_view(
    stroke="transparent").properties(padding={"left": 2, "top": 2, "right": 0, "bottom": 0},
                                     background="white")

chart.save("out.html", embed_options={"renderer": "svg", "actions": False})
